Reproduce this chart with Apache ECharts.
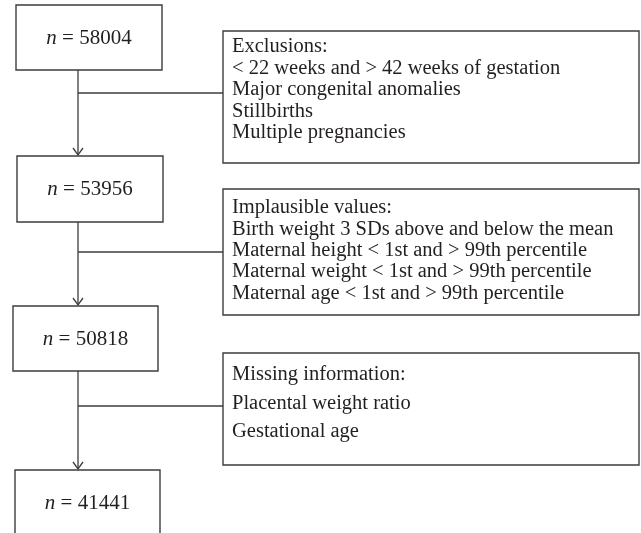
<!DOCTYPE html>
<html>
<head>
<meta charset="utf-8">
<script src="https://cdn.jsdelivr.net/npm/echarts@6/dist/echarts.min.js"></script>
<style>html,body{margin:0;padding:0;background:#fff;}#main{width:641px;height:533px;}</style>
</head>
<body>
<div id="main"></div>
<script>
// ---- data ----
const counts = [58004, 53956, 50818, 41441];
const exclusionTitles = ['Exclusions:', 'Implausible values:', 'Missing information:'];
const exclusionItems = [
  ['< 22 weeks and > 42 weeks of gestation', 'Major congenital anomalies', 'Stillbirths', 'Multiple pregnancies'],
  ['Birth weight 3 SDs above and below the mean', 'Maternal height < 1st and > 99th percentile', 'Maternal weight < 1st and > 99th percentile', 'Maternal age < 1st and > 99th percentile'],
  ['Placental weight ratio', 'Gestational age']
];

// ---- layout ----
const mainBoxes = [
  {x: 16, y: 5, w: 146, h: 65},
  {x: 17, y: 156, w: 146, h: 66},
  {x: 13, y: 306, w: 145, h: 65},
  {x: 15, y: 470, w: 145, h: 66}
];
const sideBoxes = [
  {x: 223, y: 31, w: 416, h: 132, ty: 47, lh: 21.5},
  {x: 223, y: 189, w: 416, h: 126, ty: 208, lh: 21.3},
  {x: 223, y: 353, w: 416, h: 112, ty: 375, lh: 28.5}
];
const trunkX = 78;
const branchY = [93, 252, 406];
const lineColor = '#3c3c3c';
const textColor = '#231f20';
const FONT = 'Liberation Serif';

const els = [];
mainBoxes.forEach((b, i) => {
  els.push({type: 'rect', shape: {x: b.x, y: b.y, width: b.w, height: b.h},
    style: {fill: '#fff', stroke: lineColor, lineWidth: 1.4}, z: 2});
  els.push({type: 'text', x: b.x + b.w / 2, y: b.y + 33, z: 3,
    style: {text: '{i|n} = ' + counts[i], textAlign: 'center', textVerticalAlign: 'middle',
      font: '21px ' + FONT, fill: textColor,
      rich: {i: {fontStyle: 'italic', fontFamily: FONT, fontSize: 21, fill: textColor}}}});
});
sideBoxes.forEach((b, i) => {
  els.push({type: 'rect', shape: {x: b.x, y: b.y, width: b.w, height: b.h},
    style: {fill: '#fff', stroke: lineColor, lineWidth: 1.4}, z: 2});
  const lines = [exclusionTitles[i]].concat(exclusionItems[i]);
  lines.forEach((t, k) => {
    els.push({type: 'text', x: b.x + 9, y: b.ty + k * b.lh, z: 3,
      style: {text: t, textAlign: 'left', textVerticalAlign: 'middle',
        font: '20.5px ' + FONT, fill: textColor}});
  });
});
// connectors
for (let i = 0; i < 3; i++) {
  const top = mainBoxes[i].y + mainBoxes[i].h;
  const bot = mainBoxes[i + 1].y - 1;
  els.push({type: 'line', shape: {x1: trunkX, y1: top, x2: trunkX, y2: bot},
    style: {stroke: lineColor, lineWidth: 1.3}, z: 1});
  els.push({type: 'line', shape: {x1: trunkX, y1: branchY[i], x2: sideBoxes[i].x, y2: branchY[i]},
    style: {stroke: lineColor, lineWidth: 1.3}, z: 1});
  els.push({type: 'polyline', shape: {points: [[trunkX - 5, bot - 7], [trunkX, bot], [trunkX + 5, bot - 7]]},
    style: {stroke: lineColor, lineWidth: 1.3, fill: null}, z: 1});
}

const chart = echarts.init(document.getElementById('main'), null, {renderer: 'canvas'});
chart.setOption({backgroundColor: '#fff', animation: false, graphic: {elements: els}});
</script>
</body>
</html>
